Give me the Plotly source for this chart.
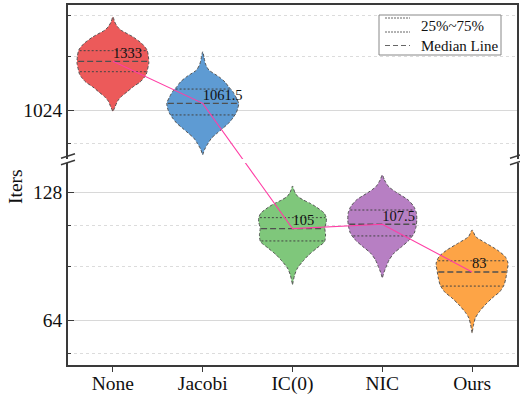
import numpy as np
import plotly.graph_objects as go

# ---------------- data ----------------
categories = ["None", "Jacobi", "IC(0)", "NIC", "Ours"]
medians = [1333, 1061.5, 105, 107.5, 83]
median_labels = ["1333", "1061.5", "105", "107.5", "83"]
q1 = [1260, 997, 98.2, 100.9, 76.9]
q3 = [1412, 1147, 111.4, 116.1, 88.2]

# violin density profiles (iteration value, relative half-width)
none_v = [1697, 1649, 1608, 1579, 1523, 1469, 1417, 1364, 1321, 1272, 1244, 1224, 1192, 1162, 1131, 1100, 1075, 1042, 1015]
none_w = [0, 0.05, 0.13, 0.22, 0.55, 0.80, 0.95, 0.99, 1.0, 0.96, 0.93, 0.88, 0.76, 0.57, 0.40, 0.23, 0.13, 0.06, 0]
jacobi_v = [1404, 1357, 1313, 1272, 1226, 1192, 1162, 1131, 1100, 1062, 1035, 1008, 981, 953, 929, 903, 880, 855, 829, 803]
jacobi_w = [0, 0.04, 0.08, 0.17, 0.45, 0.62, 0.72, 0.84, 0.92, 1.0, 0.98, 0.93, 0.84, 0.72, 0.57, 0.40, 0.25, 0.15, 0.06, 0]
ic0_v = [132.2, 129.4, 127.6, 124.9, 122.6, 120.3, 118.2, 114.2, 111.2, 108.8, 105.3, 101.4, 97.8, 94.5, 91.0, 87.8, 84.8, 81.7, 77.4]
ic0_w = [0, 0.04, 0.07, 0.15, 0.30, 0.50, 0.65, 0.88, 0.94, 0.94, 0.90, 0.92, 0.89, 0.68, 0.45, 0.28, 0.14, 0.06, 0]
nic_v = [140.4, 136.6, 131.7, 127.6, 122.6, 118.2, 114.2, 110.0, 106.1, 102.5, 98.7, 95.2, 92.0, 88.6, 85.4, 83.0, 80.3]
nic_w = [0, 0.06, 0.18, 0.40, 0.72, 0.88, 0.95, 0.96, 0.94, 0.89, 0.75, 0.54, 0.33, 0.19, 0.11, 0.05, 0]
ours_v = [104.2, 100.5, 97.1, 93.5, 90.2, 87.1, 83.1, 80.3, 77.4, 74.6, 72.1, 69.4, 66.9, 64.7, 62.3, 59.6]
ours_w = [0, 0.10, 0.38, 0.70, 0.92, 1.0, 0.97, 0.94, 0.89, 0.77, 0.56, 0.36, 0.20, 0.09, 0.04, 0]

profiles_v = [none_v, jacobi_v, ic0_v, nic_v, ours_v]
profiles_w = [none_w, jacobi_w, ic0_w, nic_w, ours_w]
panel = ["top", "top", "bottom", "bottom", "bottom"]

y_tick_top = [1024]
y_tick_bottom = [64, 128]
minor_top = [853.33, 1365.33, 1706.67]
minor_bottom = [53.33, 85.33, 106.67]

# ---------------- style ----------------
colors = ["#EC5A5A", "#5E9BD3", "#7FC77B", "#B77FC3", "#FDA446"]
FONT = "Liberation Serif"
HALF = 0.40
AX = "#3a3a3a"
GRID = "#d8d8d8"
PINK = "#FF3EA5"

W, H = 520, 398
ML, MR, MT, MB = 68, 3, 5, 33
PW, PH = W - ML - MR, H - MT - MB
top_end_px, bot_start_px = 159, 163          # break (pixels from top)
dom_top = [(H - MB - top_end_px) / PH, 1.0]
dom_bot = [0.0, (H - MB - bot_start_px) / PH]

# log2 ranges
top_lo2, top_hi2 = 9.6172, 10.8203
bot_lo2, bot_hi2 = 5.6484, 7.2266
L2 = np.log10(2)
px_per_oct = PH * (dom_top[1] - dom_top[0]) / (top_hi2 - top_lo2)
offset_oct = (top_lo2 - (bot_start_px - top_end_px) / px_per_oct) - bot_hi2
factor = 2 ** offset_oct

fig = go.Figure()

def axes_for(p):
    return ("x2", "y2") if p == "top" else ("x", "y")

for i, cat in enumerate(categories):
    xa, ya = axes_for(panel[i])
    v = np.array(profiles_v[i], dtype=float)
    w = np.array(profiles_w[i], dtype=float) * HALF
    xs = np.concatenate([i + w, (i - w)[::-1]])
    ys = np.concatenate([v, v[::-1]])
    fig.add_trace(go.Scatter(
        x=xs, y=ys, mode="lines", fill="toself", fillcolor=colors[i],
        line=dict(color="#555555", width=1, dash="3px,2px", shape="spline", smoothing=0.7),
        xaxis=xa, yaxis=ya, showlegend=False, hoverinfo="skip"))
    # quartile lines
    for q in (q1[i], q3[i]):
        hw = np.interp(q, v[::-1], w[::-1]) * 0.97
        fig.add_trace(go.Scatter(
            x=[i - hw, i + hw], y=[q, q], mode="lines",
            line=dict(color="#444444", width=1, dash="2px,2px"),
            xaxis=xa, yaxis=ya, showlegend=False, hoverinfo="skip"))
    hw = np.interp(medians[i], v[::-1], w[::-1]) * 0.97
    fig.add_trace(go.Scatter(
        x=[i - hw, i + hw], y=[medians[i], medians[i]], mode="lines",
        line=dict(color="#505050", width=1.3, dash="6px,3px"),
        xaxis=xa, yaxis=ya, showlegend=False, hoverinfo="skip"))

# median connecting line, drawn in both panels (clipped at the break)
xs_idx = list(range(len(categories)))
med_top = [m if p == "top" else m * factor for m, p in zip(medians, panel)]
med_bot = [m if p == "bottom" else m / factor for m, p in zip(medians, panel)]
fig.add_trace(go.Scatter(x=xs_idx, y=med_top, mode="lines", line=dict(color=PINK, width=1.1),
                         xaxis="x2", yaxis="y2", showlegend=False, hoverinfo="skip"))
fig.add_trace(go.Scatter(x=xs_idx, y=med_bot, mode="lines", line=dict(color=PINK, width=1.1),
                         xaxis="x", yaxis="y", showlegend=False, hoverinfo="skip"))

# median labels
for p in ("top", "bottom"):
    xa, ya = axes_for(p)
    idx = [i for i in xs_idx if panel[i] == p]
    fig.add_trace(go.Scatter(
        x=idx, y=[medians[i] for i in idx], mode="text",
        text=[median_labels[i] for i in idx], textposition="top right",
        textfont=dict(family=FONT, size=14.5, color="#111111"),
        xaxis=xa, yaxis=ya, showlegend=False, hoverinfo="skip"))

yax_common = dict(type="log", showline=True, mirror=True, linecolor=AX, linewidth=1.5,
                  ticks="inside", ticklen=6, tickwidth=1.2, tickcolor=AX, automargin=False,
                  showgrid=True, gridcolor=GRID, gridwidth=1, zeroline=False,
                  tickfont=dict(family=FONT, size=19.5, color="#111111"))

fig.update_layout(
    width=W, height=H, margin=dict(l=ML, r=MR, t=MT, b=MB),
    plot_bgcolor="white", paper_bgcolor="white", showlegend=False,
    xaxis=dict(domain=[0, 1], range=[-0.5, 4.5], anchor="y", automargin=False,
               tickmode="array", tickvals=xs_idx, ticktext=categories,
               ticks="outside", ticklen=5, tickwidth=1.2, tickcolor=AX,
               ticklabelstandoff=-5,
               showline=True, linecolor=AX, linewidth=1.5, showgrid=False, zeroline=False,
               tickfont=dict(family=FONT, size=19.5, color="#111111")),
    xaxis2=dict(matches="x", anchor="y2", side="top", range=[-0.5, 4.5], automargin=False,
                showline=True, linecolor=AX, linewidth=1.5, ticks="",
                showticklabels=False, showgrid=False, zeroline=False),
    yaxis=dict(domain=dom_bot, anchor="x", range=[bot_lo2 * L2, bot_hi2 * L2],
               tickmode="array", tickvals=y_tick_bottom, ticktext=[str(t) for t in y_tick_bottom],
               minor=dict(tickmode="array", tickvals=minor_bottom, ticks="inside", ticklen=3,
                          tickcolor=AX, showgrid=True, gridcolor="#dcdcdc", griddash="dot"),
               **yax_common),
    yaxis2=dict(domain=dom_top, anchor="x2", range=[top_lo2 * L2, top_hi2 * L2],
                tickmode="array", tickvals=y_tick_top, ticktext=[str(t) for t in y_tick_top],
                minor=dict(tickmode="array", tickvals=minor_top, ticks="inside", ticklen=3,
                           tickcolor=AX, showgrid=True, gridcolor="#dcdcdc", griddash="dot"),
                **yax_common),
)

def px_x(px):
    return (px - ML) / PW

def px_y(py):
    return (H - MB - py) / PH

shapes = []
# axis break marks
for cx in (ML, W - MR):
    for cy in (156, 162.5):
        shapes.append(dict(type="line", xref="paper", yref="paper",
                           x0=px_x(cx - 7), y0=px_y(cy + 2.2), x1=px_x(cx + 7), y1=px_y(cy - 2.2),
                           line=dict(color=AX, width=1.5)))
# legend box
shapes.append(dict(type="rect", xref="paper", yref="paper",
                   x0=px_x(379), x1=px_x(501), y0=px_y(55), y1=px_y(15),
                   fillcolor="white", line=dict(color="#888888", width=1)))
for py in (18, 32):
    shapes.append(dict(type="line", xref="paper", yref="paper",
                       x0=px_x(385), x1=px_x(410), y0=px_y(py), y1=px_y(py),
                       line=dict(color="#666666", width=1, dash="2px,1px")))
shapes.append(dict(type="line", xref="paper", yref="paper",
                   x0=px_x(385), x1=px_x(410), y0=px_y(45.5), y1=px_y(45.5),
                   line=dict(color="#666666", width=1, dash="5px,3px")))
fig.update_layout(shapes=shapes)

annotations = [
    dict(text="25%~75%", xref="paper", yref="paper", x=px_x(419), y=px_y(25.5),
         xanchor="left", yanchor="middle", showarrow=False,
         font=dict(family=FONT, size=15, color="#111111")),
    dict(text="Median Line", xref="paper", yref="paper", x=px_x(419), y=px_y(45.5),
         xanchor="left", yanchor="middle", showarrow=False,
         font=dict(family=FONT, size=15, color="#111111")),
    dict(text="Iters", xref="paper", yref="paper", x=px_x(15), y=px_y(187),
         xanchor="center", yanchor="middle", textangle=-90, showarrow=False,
         font=dict(family=FONT, size=19.5, color="#111111")),
]
fig.update_layout(annotations=annotations)

fig.write_html("out.html")
